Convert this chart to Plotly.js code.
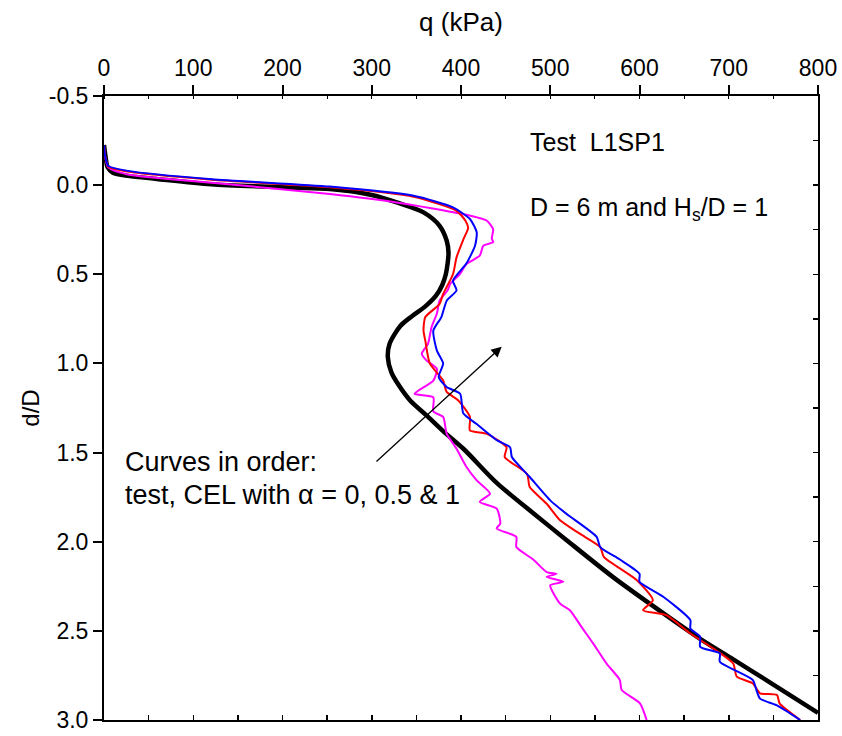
<!DOCTYPE html>
<html>
<head>
<meta charset="utf-8">
<script src="https://cdn.plot.ly/plotly-3.0.1.min.js"></script>
<style>html,body{margin:0;padding:0;background:#fff;}#chart{width:842px;height:736px;}</style>
</head>
<body>
<div id="chart"></div>
<script>
// Test curve (black)
const testQ = [0, 2, 4, 10, 27, 59, 120, 208, 253, 300, 328, 358, 376, 384, 386, 385, 383, 379, 372, 360, 345, 332, 320, 318, 322, 330, 343, 361, 380, 403, 440, 481, 518, 570, 615, 668, 705, 742, 800];
const testD = [-0.225, -0.15, -0.1, -0.07, -0.052, -0.035, -0.005, 0.013, 0.022, 0.055, 0.097, 0.153, 0.228, 0.312, 0.38, 0.44, 0.5, 0.56, 0.62, 0.68, 0.735, 0.79, 0.89, 0.965, 1.05, 1.12, 1.208, 1.29, 1.38, 1.48, 1.67, 1.84, 1.99, 2.197, 2.36, 2.545, 2.66, 2.776, 2.96];

// CEL alpha = 0 (magenta)
const a0Q = [0, 1, 4.8, 27, 121, 253, 328, 402.6, 429, 436, 434.5, 436, 425, 421, 406, 399, 388, 385, 376, 373, 367, 363, 356, 361.5, 373, 369, 348, 369, 369, 380, 384, 395, 406, 417.6, 432.5, 421, 440, 444, 440, 462, 462, 481, 496, 507, 496, 514.6, 500, 511, 522, 535, 548, 563, 578, 580, 600.5, 608];
const a0D = [-0.225, -0.17, -0.1, -0.06, -0.014, 0.05, 0.097, 0.163, 0.2, 0.247, 0.30, 0.32, 0.34, 0.396, 0.443, 0.497, 0.553, 0.59, 0.648, 0.72, 0.797, 0.89, 0.946, 0.984, 1.03, 1.096, 1.17, 1.19, 1.27, 1.30, 1.395, 1.478, 1.58, 1.656, 1.73, 1.777, 1.814, 1.898, 1.926, 1.973, 2.03, 2.10, 2.17, 2.18, 2.197, 2.225, 2.244, 2.347, 2.384, 2.478, 2.57, 2.683, 2.776, 2.832, 2.907, 3.0];

// CEL alpha = 0.5 (red)
const a05Q = [0, 1, 4.8, 27, 121, 253, 347, 395, 405, 408, 403, 395, 391, 380, 376, 360, 358, 360, 365, 380, 384, 397, 410, 410, 429, 451, 449, 474, 477, 496, 511, 533, 556, 560, 597, 615, 604, 630, 657, 686, 705, 709, 727, 735, 754, 757, 780];
const a05D = [-0.225, -0.17, -0.105, -0.076, -0.03, 0.012, 0.065, 0.144, 0.2, 0.24, 0.30, 0.405, 0.5, 0.61, 0.667, 0.74, 0.816, 0.872, 1.0, 1.096, 1.16, 1.208, 1.30, 1.376, 1.395, 1.47, 1.525, 1.62, 1.693, 1.787, 1.88, 1.955, 2.03, 2.085, 2.216, 2.328, 2.384, 2.412, 2.515, 2.61, 2.683, 2.757, 2.795, 2.85, 2.86, 2.907, 3.0];

// CEL alpha = 1 (blue)
const a1Q = [0, 1, 4.8, 27, 121, 253, 347, 391, 410, 417.6, 415.7, 406, 391, 395, 384, 378, 369, 373, 380, 375, 384, 399, 402.6, 417.6, 440, 455, 457, 477, 500, 518, 552, 556, 578, 600, 600, 627, 657, 657, 668, 668, 690, 690, 727, 731, 735, 754, 780];
const a1D = [-0.225, -0.17, -0.108, -0.08, -0.033, 0.008, 0.06, 0.125, 0.19, 0.265, 0.34, 0.44, 0.536, 0.59, 0.648, 0.74, 0.816, 0.928, 1.0, 1.077, 1.133, 1.17, 1.28, 1.34, 1.43, 1.47, 1.525, 1.637, 1.768, 1.843, 1.973, 2.03, 2.10, 2.18, 2.225, 2.31, 2.44, 2.487, 2.533, 2.59, 2.627, 2.673, 2.776, 2.832, 2.88, 2.918, 3.0];

// Tick labels
const xTickVals = [0, 100, 200, 300, 400, 500, 600, 700, 800];
const xTickText = ['0', '100', '200', '300', '400', '500', '600', '700', '800'];
const yTickVals = [-0.5, 0, 0.5, 1.0, 1.5, 2.0, 2.5, 3.0];
const yTickText = ['-0.5', '0.0', '0.5', '1.0', '1.5', '2.0', '2.5', '3.0'];

const xRange = [0, 800];
const yRange = [3.0, -0.5];
const FONT = '"Liberation Sans", Arial, sans-serif';

const traces = [
  {x: testQ, y: testD, mode: 'lines', line: {color: '#000000', width: 4.5, shape: 'spline', smoothing: 0.8}, name: 'test'},
  {x: a0Q, y: a0D, mode: 'lines', line: {color: '#ff00ff', width: 2, shape: 'spline', smoothing: 0.6}, name: 'alpha=0'},
  {x: a05Q, y: a05D, mode: 'lines', line: {color: '#ff0000', width: 2, shape: 'spline', smoothing: 0.6}, name: 'alpha=0.5'},
  {x: a1Q, y: a1D, mode: 'lines', line: {color: '#0000ff', width: 2, shape: 'spline', smoothing: 0.6}, name: 'alpha=1'},
  {x: [null], y: [null], xaxis: 'x2', yaxis: 'y2', mode: 'lines', showlegend: false, hoverinfo: 'skip'}
];

const axCommon = {showgrid: false, zeroline: false, showline: true, linewidth: 2, linecolor: '#000', tickcolor: '#000'};

const layout = {
  width: 842, height: 736,
  margin: {l: 104, r: 24, t: 96, b: 16},
  paper_bgcolor: '#fff', plot_bgcolor: '#fff',
  showlegend: false,
  font: {family: FONT, color: '#000'},
  xaxis: Object.assign({}, axCommon, {
    side: 'top', range: xRange, tickmode: 'array', tickvals: xTickVals, ticktext: xTickText,
    ticks: 'outside', ticklen: 9, tickwidth: 2,
    tickfont: {family: FONT, size: 23},
    minor: {tickmode: 'linear', tick0: 0, dtick: 50, ticks: 'inside', ticklen: 3, tickwidth: 1, tickcolor: '#000'},
    title: {text: 'q (kPa)', font: {family: FONT, size: 26}, standoff: 16}
  }),
  yaxis: Object.assign({}, axCommon, {
    range: yRange, tickmode: 'array', tickvals: yTickVals, ticktext: yTickText,
    ticks: 'outside', ticklen: 9, tickwidth: 2,
    tickfont: {family: FONT, size: 23},
    title: {text: 'd/D', font: {family: FONT, size: 24}, standoff: 2}
  }),
  xaxis2: Object.assign({}, axCommon, {
    overlaying: 'x', anchor: 'y2', side: 'bottom', range: xRange, tick0: 0, dtick: 50,
    ticks: 'inside', ticklen: 5, tickwidth: 1.5, showticklabels: false
  }),
  yaxis2: Object.assign({}, axCommon, {
    overlaying: 'y', anchor: 'x2', side: 'right', range: yRange, tick0: 0, dtick: 0.25,
    ticks: 'inside', ticklen: 5, tickwidth: 1.5, showticklabels: false
  }),
  annotations: [
    {xref: 'x', yref: 'y', x: 475, y: -0.24, xanchor: 'left', yanchor: 'middle', showarrow: false,
     text: 'Test  L1SP1', font: {family: FONT, size: 25}},
    {xref: 'x', yref: 'y', x: 475, y: 0.135, xanchor: 'left', yanchor: 'middle', showarrow: false,
     text: 'D = 6 m and H<sub>s</sub>/D = 1', font: {family: FONT, size: 25}},
    {xref: 'x', yref: 'y', x: 21, y: 1.553, xanchor: 'left', yanchor: 'middle', showarrow: false,
     text: 'Curves in order:', font: {family: FONT, size: 27}},
    {xref: 'x', yref: 'y', x: 21, y: 1.738, xanchor: 'left', yanchor: 'middle', showarrow: false,
     text: 'test, CEL with α = 0, 0.5 &amp; 1', font: {family: FONT, size: 27}},
    {xref: 'x', yref: 'y', axref: 'x', ayref: 'y', x: 445.6, y: 0.906, ax: 303.6, ay: 1.558,
     showarrow: true, arrowhead: 2, arrowsize: 1.6, arrowwidth: 1.3, arrowcolor: '#000', text: ''}
  ]
};

Plotly.newPlot('chart', traces, layout, {staticPlot: true, displayModeBar: false});
</script>
</body>
</html>
